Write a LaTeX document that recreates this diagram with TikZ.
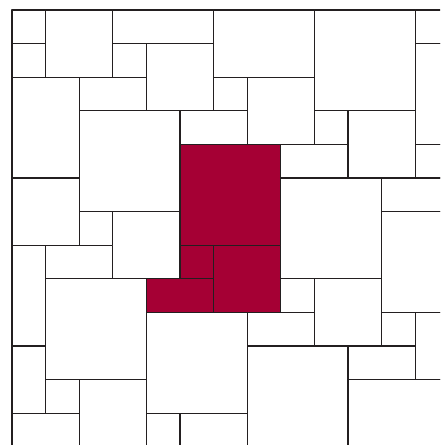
\documentclass[tikz,border=0pt]{standalone}
\definecolor{kqaaed}{rgb}{0.64706,0.0,0.20392}
\definecolor{bfbgbh}{rgb}{0.13725,0.12157,0.12549}

\begin{document}
\begin{tikzpicture}[x=33.6pt,y=-33.6pt,line cap=round,line join=round,
  tile/.style={line width=1.3pt,draw=bfbgbh,fill=white},
  redtile/.style={line width=1.3pt,draw=bfbgbh,fill=kqaaed}]
  \useasboundingbox (-0.35714,-0.29762) rectangle (12.73810,12.94643);
  \clip (-0.35714,-0.29762) rectangle (12.73810,12.94643);
  % top rows
  \draw[tile] (0,0) rectangle (1,1);
  \draw[tile] (0,1) rectangle (1,2);
  \draw[tile] (1,0) rectangle (3,2);
  \draw[tile] (3,0) rectangle (6,1);
  \draw[tile] (3,1) rectangle (4,2);
  \draw[tile] (4,1) rectangle (6,3);
  \draw[tile] (6,0) rectangle (9,2);
  \draw[tile] (6,2) rectangle (7,3);
  \draw[tile] (7,2) rectangle (9,4);
  \draw[tile] (9,0) rectangle (12,3);
  \draw[tile] (12,0) rectangle (13,1);
  \draw[tile] (12,1) rectangle (13,4);
  \draw[tile] (0,2) rectangle (2,5);
  \draw[tile] (2,2) rectangle (4,3);
  \draw[tile] (2,3) rectangle (5,6);
  \draw[tile] (5,3) rectangle (7,4);
  \draw[tile] (9,3) rectangle (10,4);
  \draw[tile] (10,3) rectangle (12,5);
  \draw[tile] (12,4) rectangle (13,5);
  \draw[tile] (8,4) rectangle (10,5);
  % middle rows
  \draw[tile] (8,5) rectangle (11,8);
  \draw[tile] (11,5) rectangle (13,6);
  \draw[tile] (11,6) rectangle (13,9);
  \draw[tile] (0,5) rectangle (2,7);
  \draw[tile] (2,6) rectangle (3,7);
  \draw[tile] (3,6) rectangle (5,8);
  \draw[tile] (0,7) rectangle (1,10);
  \draw[tile] (1,7) rectangle (3,8);
  \draw[tile] (1,8) rectangle (4,11);
  \draw[tile] (8,8) rectangle (9,9);
  \draw[tile] (9,8) rectangle (11,10);
  % red block
  \draw[redtile] (5,4) rectangle (8,7);
  \draw[redtile] (5,7) rectangle (6,8);
  \draw[redtile] (6,7) rectangle (8,9);
  \draw[redtile] (4,8) rectangle (6,9);
  % bottom rows
  \draw[tile] (4,9) rectangle (7,12);
  \draw[tile] (7,9) rectangle (9,10);
  \draw[tile] (11,9) rectangle (12,10);
  \draw[tile] (12,9) rectangle (13,11);
  \draw[tile] (0,10) rectangle (1,12);
  \draw[tile] (7,10) rectangle (10,13);
  \draw[tile] (10,10) rectangle (12,11);
  \draw[tile] (1,11) rectangle (2,12);
  \draw[tile] (2,11) rectangle (4,13);
  \draw[tile] (10,11) rectangle (13,13);
  \draw[tile] (0,12) rectangle (2,13);
  \draw[tile] (4,12) rectangle (5,13);
  \draw[tile] (5,12) rectangle (7,13);
\end{tikzpicture}
\end{document}
